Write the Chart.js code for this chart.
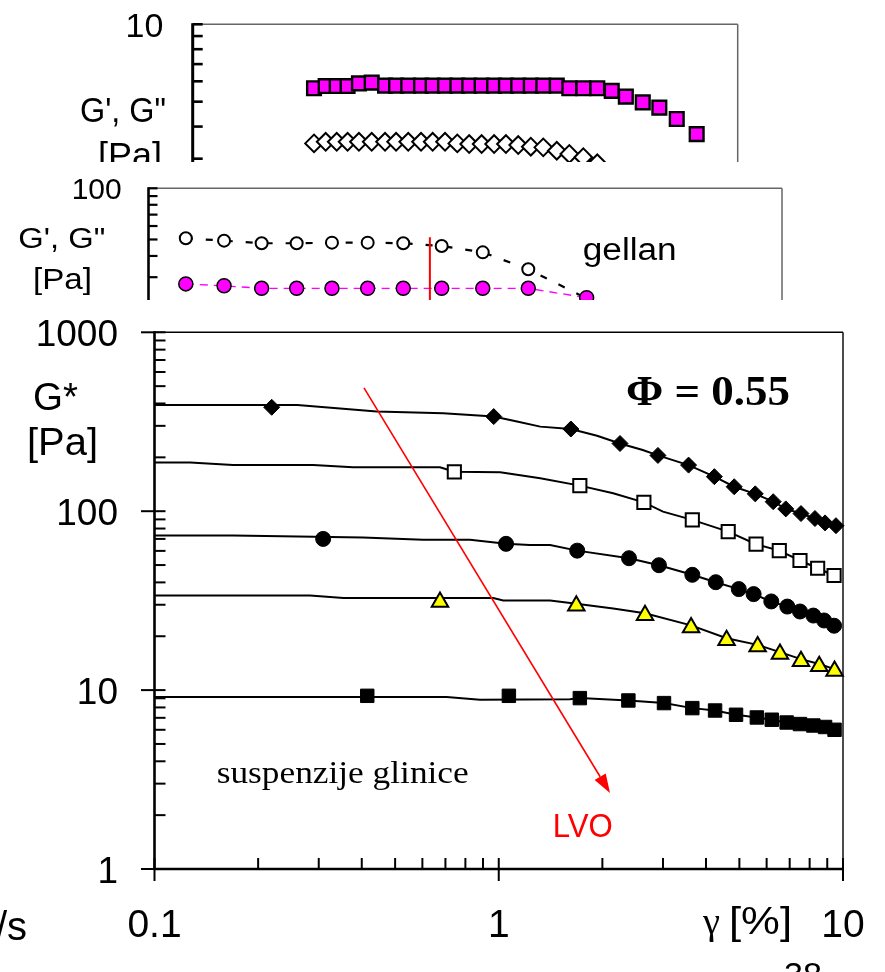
<!DOCTYPE html>
<html>
<head>
<meta charset="utf-8">
<script src="https://cdn.jsdelivr.net/npm/chart.js@4/dist/chart.umd.min.js"></script>
<style>
  html, body { margin: 0; padding: 0; background: #fff; }
  body { width: 885px; height: 972px; position: relative; overflow: hidden; }
  .panel { position: absolute; left: 0; width: 885px; overflow: hidden; background: #fff; }
  .panel canvas { position: absolute; left: 0; top: 0; }
</style>
</head>
<body>
<div class="panel" style="top:0;height:162px"><canvas id="storagePanel" width="885" height="560"></canvas></div>
<div class="panel" style="top:162px;height:138px"><canvas id="gellanPanel" width="885" height="400"></canvas></div>
<div class="panel" style="top:300px;height:672px"><canvas id="aluminaPanel" width="885" height="672"></canvas></div>
<script>
// ---------- Upper panel: G' (squares) and G'' (diamonds) ----------
const upperModulusTicks = ['0.1', '1', '10'];
const upperStrain = [0.0777, 0.0946, 0.114, 0.137, 0.166, 0.206, 0.258, 0.311, 0.382, 0.474,
                     0.577, 0.711, 0.875, 1.07, 1.32, 1.63, 1.99, 2.45, 3.03, 3.74,
                     4.70, 5.81, 7.36, 9.32, 11.9, 15.1, 20.1, 26.6, 35.7, 50.0];
const upperStorage = [5.64, 5.75, 5.75, 5.75, 5.89, 5.93, 5.77, 5.77, 5.77, 5.77,
                      5.77, 5.77, 5.77, 5.77, 5.77, 5.77, 5.77, 5.77, 5.77, 5.77,
                      5.77, 5.64, 5.64, 5.64, 5.51, 5.23, 4.97, 4.74, 4.28, 3.74];
const upperLoss = [3.44, 3.49, 3.49, 3.49, 3.49, 3.49, 3.49, 3.49, 3.49, 3.49,
                   3.49, 3.49, 3.44, 3.42, 3.42, 3.42, 3.42, 3.39, 3.34, 3.32,
                   3.22, 3.13, 3.04, 2.88];

// ---------- Middle panel: gellan ----------
const gellanModulusTicks = ['1', '10', '100'];
const gellanStrain = [0.0172, 0.030, 0.0518, 0.0862, 0.144, 0.242, 0.406, 0.710, 1.29, 2.50, 5.84];
const gellanOpen   = [50.8, 49.2, 47.5, 47.5, 47.9, 47.9, 47.5, 45.8, 42.0, 33.4, 22.5];
const gellanFilled = [27.4, 26.7, 25.8, 25.8, 25.8, 25.8, 25.8, 25.8, 25.8, 25.8, 22.7];
const gellanLimitStrain = 0.598;
const gellanLimitTop = 51.5;

// ---------- Main panel: G* of alumina suspensions vs strain ----------
const strainTicks = ['0.1', '1', '10'];
const modulusTicks = ['1', '10', '100', '1000'];

const diamondStrain = [0.219, 0.967, 1.62, 2.25, 2.90, 3.56, 4.23, 4.83, 5.56, 6.27, 6.82, 7.55, 8.29, 8.87, 9.54];
const diamondG      = [381, 338, 288, 239, 205, 181, 156, 137, 125, 113, 103, 97, 91, 86, 83];
const diamondFitStrain = [0.1, 0.26, 0.442, 0.69, 0.967, 1.13, 1.32, 1.62, 1.93, 2.25, 2.62, 2.90, 3.56, 4.23, 4.83, 5.56, 6.27, 6.82, 7.55, 8.29, 8.87, 9.54];
const diamondFitG      = [392, 392, 361, 353, 338, 317, 297, 288, 264, 239, 220, 205, 181, 156, 137, 125, 113, 103, 97, 91, 86, 83];

const openSqStrain = [0.743, 1.72, 2.64, 3.65, 4.64, 5.59, 6.53, 7.50, 8.44, 9.42];
const openSqG      = [166, 139, 112, 89.4, 76.9, 65.4, 60.2, 53.0, 48.0, 43.7];
const openSqFitStrain = [0.1, 0.127, 0.169, 0.289, 0.377, 0.675, 0.743, 1.01, 1.32, 1.72, 2.15, 2.64, 3.0, 3.65, 4.64, 5.59, 6.53, 7.50, 8.44, 9.42];
const openSqFitG      = [187, 187, 181, 181, 176, 176, 166, 165, 153, 139, 126, 112, 99.5, 89.4, 76.9, 65.4, 60.2, 53.0, 48.0, 43.7];

const circleStrain = [0.309, 1.05, 1.69, 2.39, 2.92, 3.65, 4.27, 4.98, 5.50, 6.19, 6.89, 7.50, 8.20, 8.81, 9.42];
const circleG      = [70.0, 65.7, 60.2, 54.6, 49.9, 44.1, 40.1, 36.7, 34.4, 31.3, 29.3, 27.5, 26.1, 24.5, 22.9];
const circleFitStrain = [0.1, 0.169, 0.403, 0.603, 0.825, 1.05, 1.23, 1.41, 1.69, 2.39, 2.92, 3.65, 4.27, 4.98, 5.50, 6.19, 6.89, 7.50, 8.20, 8.81, 9.42];
const circleFitG      = [73.1, 73.1, 71.2, 69.2, 69.2, 65.7, 64.8, 64.8, 60.2, 54.6, 49.9, 44.1, 40.1, 36.7, 34.4, 31.3, 29.3, 27.5, 26.1, 24.5, 22.9];

const triStrain = [0.675, 1.68, 2.66, 3.62, 4.59, 5.65, 6.56, 7.55, 8.53, 9.45];
const triG      = [31.1, 29.6, 26.2, 22.4, 19.0, 17.5, 15.9, 14.5, 13.6, 12.8];
const triFitStrain = [0.1, 0.283, 0.354, 0.964, 1.03, 1.41, 1.68, 2.15, 2.66, 3.62, 4.59, 5.65, 6.56, 7.55, 8.53, 9.45];
const triFitG      = [33.8, 33.8, 32.7, 32.7, 31.7, 31.7, 30.4, 28.6, 26.9, 23.0, 19.5, 17.9, 16.3, 14.9, 14.0, 13.1];

const squareStrain = [0.415, 1.07, 1.72, 2.38, 3.02, 3.65, 4.25, 4.89, 5.62, 6.21, 6.86, 7.50, 8.20, 8.87, 9.45];
const squareG      = [9.29, 9.29, 9.02, 8.75, 8.46, 7.93, 7.69, 7.28, 7.03, 6.83, 6.59, 6.46, 6.34, 6.22, 6.00];
const squareFitStrain = [0.1, 0.706, 0.882, 1.61, 1.72, 2.38, 3.02, 3.65, 4.25, 4.89, 5.62, 6.21, 6.86, 7.50, 8.20, 8.87, 9.45];
const squareFitG      = [9.14, 9.14, 8.83, 8.9, 9.02, 8.75, 8.46, 7.93, 7.69, 7.28, 7.03, 6.83, 6.59, 6.46, 6.34, 6.22, 6.00];

// Direction of decreasing linear viscoelastic limit
const lvoArrowFrom = { x: 0.406, y: 489 };
const lvoArrowTo   = { x: 2.105, y: 2.66 };

// ---------- helpers ----------
const W = 885;
const SANS = "'Liberation Sans', Arial, sans-serif";
const SERIF = "'Liberation Serif', 'Times New Roman', serif";

function pts(xs, ys) { return xs.map((x, i) => ({ x: x, y: ys[i] })); }

function seg(ctx, x1, y1, x2, y2) {
  ctx.beginPath(); ctx.moveTo(x1, y1); ctx.lineTo(x2, y2); ctx.stroke();
}

// Draws text at a baseline; optionally squeezes/stretches it to a given width.
function drawText(ctx, text, o) {
  ctx.save();
  ctx.font = o.font;
  ctx.fillStyle = o.color || '#000';
  ctx.textBaseline = 'alphabetic';
  const w = ctx.measureText(text).width;
  const sx = o.width ? o.width / w : 1;
  let x = o.x;
  if (o.align === 'right') x -= w * sx;
  else if (o.align === 'center') x -= w * sx / 2;
  ctx.translate(x, o.y);
  ctx.scale(sx, 1);
  ctx.fillText(text, 0, 0);
  ctx.restore();
}

function minorValues(min, max) {
  const out = [];
  for (let e = Math.round(Math.log10(min)); e < Math.round(Math.log10(max)); e++) {
    const base = Math.pow(10, e);
    for (let m = 2; m <= 9; m++) out.push(m * base);
  }
  return out;
}

function panelChart(id, cfg) {
  const canvas = document.getElementById(id);
  const H = canvas.height;
  const a = cfg.area;
  return new Chart(canvas, {
    type: 'scatter',
    data: { datasets: cfg.datasets },
    options: {
      responsive: false,
      animation: false,
      events: [],
      layout: { padding: { left: 0, top: a.top, right: W - a.right, bottom: 0 } },
      plugins: { legend: { display: false }, tooltip: { enabled: false } },
      scales: {
        x: {
          type: 'logarithmic', min: cfg.x.min, max: cfg.x.max,
          ticks: { display: false }, grid: { display: false, drawTicks: false }, border: { display: false },
          afterFit: s => { s.height = H - a.bottom; }
        },
        y: {
          type: 'logarithmic', min: cfg.y.min, max: cfg.y.max,
          ticks: { display: false }, grid: { display: false, drawTicks: false }, border: { display: false },
          afterFit: s => { s.width = a.left; }
        }
      }
    },
    plugins: [{ id: 'decor', afterDatasetsDraw: chart => cfg.decorate(chart) }]
  });
}

// ---------- upper panel ----------
panelChart('storagePanel', {
  area: { left: 192.7, right: 737.7, top: 24.3, bottom: 538.3 },
  x: { min: 0.01, max: 100 },
  y: { min: 0.1, max: 10 },
  datasets: [
    { data: pts(upperStrain, upperStorage), pointStyle: 'rect', pointRadius: 9.7,
      pointBackgroundColor: '#ff00ff', pointBorderColor: '#000', pointBorderWidth: 2.4 },
    { data: pts(upperStrain.slice(0, upperLoss.length), upperLoss), pointStyle: 'rectRot', pointRadius: 8.8,
      pointBackgroundColor: '#fff', pointBorderColor: '#000', pointBorderWidth: 2 }
  ],
  decorate(chart) {
    const { ctx, chartArea: a, scales: { y } } = chart;
    ctx.save();
    ctx.strokeStyle = '#666'; ctx.lineWidth = 1.5;
    seg(ctx, a.left, a.top, a.right, a.top);
    seg(ctx, a.right, a.top, a.right, a.bottom);
    ctx.strokeStyle = '#000'; ctx.lineWidth = 3;
    seg(ctx, a.left, a.top - 1, a.left, a.bottom);
    ctx.lineWidth = 2.6;
    upperModulusTicks.forEach(t => { const p = y.getPixelForValue(parseFloat(t)); seg(ctx, a.left, p, a.left + 10, p); });
    minorValues(0.1, 10).forEach(v => { const p = y.getPixelForValue(v); seg(ctx, a.left, p, a.left + 10, p); });
    upperModulusTicks.forEach(t => {
      drawText(ctx, t, { x: 163.3, y: y.getPixelForValue(parseFloat(t)) + 12.7, font: '34px ' + SANS, align: 'right' });
    });
    drawText(ctx, 'G\', G"', { x: 80, y: 122, font: '35px ' + SANS, width: 86 });
    drawText(ctx, '[Pa]', { x: 98, y: 166.5, font: '35px ' + SANS, width: 64 });
    ctx.restore();
  }
});

// ---------- middle panel ----------
panelChart('gellanPanel', {
  area: { left: 148.5, right: 782, top: 26.3, bottom: 366.3 },
  x: { min: 0.01, max: 100 },
  y: { min: 1, max: 100 },
  datasets: [
    { data: pts(gellanStrain, gellanFilled), showLine: true, borderColor: '#ff00ff', borderWidth: 1.3,
      borderDash: [8, 6], pointStyle: 'circle', pointRadius: 7,
      pointBackgroundColor: '#ff00ff', pointBorderColor: '#000', pointBorderWidth: 1.5 },
    { data: pts(gellanStrain, gellanOpen), showLine: true, borderColor: '#000', borderWidth: 2.2,
      borderDash: [7, 13], pointStyle: 'circle', pointRadius: 6,
      pointBackgroundColor: '#fff', pointBorderColor: '#000', pointBorderWidth: 2 }
  ],
  decorate(chart) {
    const { ctx, chartArea: a, scales: { x, y } } = chart;
    ctx.save();
    ctx.strokeStyle = '#666'; ctx.lineWidth = 1.5;
    seg(ctx, a.left, a.top, a.right, a.top);
    seg(ctx, a.right, a.top, a.right, a.bottom);
    ctx.strokeStyle = '#000'; ctx.lineWidth = 2.6;
    seg(ctx, a.left, a.top - 1, a.left, a.bottom);
    ctx.lineWidth = 2.2;
    gellanModulusTicks.forEach(t => { const p = y.getPixelForValue(parseFloat(t)); seg(ctx, a.left, p, a.left + 9, p); });
    minorValues(1, 100).forEach(v => { const p = y.getPixelForValue(v); seg(ctx, a.left, p, a.left + 9, p); });
    // limit of the linear region
    ctx.strokeStyle = '#ff0000'; ctx.lineWidth = 2;
    const lx = x.getPixelForValue(gellanLimitStrain);
    seg(ctx, lx, y.getPixelForValue(gellanLimitTop), lx, a.bottom);
    gellanModulusTicks.forEach(t => {
      drawText(ctx, t, { x: 121.7, y: y.getPixelForValue(parseFloat(t)) + 10.5, font: '30px ' + SANS, align: 'right' });
    });
    drawText(ctx, 'G\', G"', { x: 18.3, y: 86, font: '30px ' + SANS, width: 87 });
    drawText(ctx, '[Pa]', { x: 33, y: 126.7, font: '30px ' + SANS, width: 59 });
    drawText(ctx, 'gellan', { x: 582.7, y: 98, font: '31px ' + SANS, width: 94 });
    ctx.restore();
  }
});

// ---------- main panel ----------
const fit = { showLine: true, pointRadius: 0, borderColor: '#000', borderWidth: 2, order: 2 };
const mark = { showLine: false, order: 1, clip: false };

panelChart('aluminaPanel', {
  area: { left: 154.5, right: 843, top: 32.3, bottom: 569 },
  x: { min: 0.1, max: 10 },
  y: { min: 1, max: 1000 },
  datasets: [
    Object.assign({ data: pts(diamondFitStrain, diamondFitG) }, fit),
    Object.assign({ data: pts(openSqFitStrain, openSqFitG) }, fit),
    Object.assign({ data: pts(circleFitStrain, circleFitG) }, fit),
    Object.assign({ data: pts(triFitStrain, triFitG) }, fit),
    Object.assign({ data: pts(squareFitStrain, squareFitG) }, fit),
    Object.assign({ data: pts(diamondStrain, diamondG), pointStyle: 'rectRot', pointRadius: 8,
      pointBackgroundColor: '#000', pointBorderColor: '#000', pointBorderWidth: 1 }, mark),
    Object.assign({ data: pts(openSqStrain, openSqG), pointStyle: 'rect', pointRadius: 9.3,
      pointBackgroundColor: '#fff', pointBorderColor: '#000', pointBorderWidth: 2 }, mark),
    Object.assign({ data: pts(circleStrain, circleG), pointStyle: 'circle', pointRadius: 7.5,
      pointBackgroundColor: '#000', pointBorderColor: '#000', pointBorderWidth: 1 }, mark),
    Object.assign({ data: pts(triStrain, triG), pointStyle: 'triangle', pointRadius: 9.5,
      pointBackgroundColor: '#ffff00', pointBorderColor: '#000', pointBorderWidth: 2 }, mark),
    Object.assign({ data: pts(squareStrain, squareG), pointStyle: 'rect', pointRadius: 9.5,
      pointBackgroundColor: '#000', pointBorderColor: '#000', pointBorderWidth: 1 }, mark)
  ],
  decorate(chart) {
    const { ctx, chartArea: a, scales: { x, y } } = chart;
    ctx.save();
    // frame
    ctx.strokeStyle = '#000'; ctx.lineWidth = 1.4;
    seg(ctx, a.left, a.top, a.right, a.top);
    seg(ctx, a.right, a.top, a.right, a.bottom);
    ctx.lineWidth = 2.6;
    seg(ctx, a.left, a.top - 1, a.left, a.bottom + 1);
    seg(ctx, a.left - 1, a.bottom, a.right + 1, a.bottom);
    // ticks
    ctx.lineWidth = 2;
    modulusTicks.forEach(t => { const p = y.getPixelForValue(parseFloat(t)); seg(ctx, a.left - 13.5, p, a.left + 11, p); });
    minorValues(1, 1000).forEach(v => { const p = y.getPixelForValue(v); seg(ctx, a.left, p, a.left + 11, p); });
    strainTicks.forEach(t => { const p = x.getPixelForValue(parseFloat(t)); seg(ctx, p, a.bottom - 11, p, a.bottom + 12); });
    minorValues(0.1, 10).forEach(v => { const p = x.getPixelForValue(v); seg(ctx, p, a.bottom - 11, p, a.bottom); });
    // arrow
    const x1 = x.getPixelForValue(lvoArrowFrom.x), y1 = y.getPixelForValue(lvoArrowFrom.y);
    const x2 = x.getPixelForValue(lvoArrowTo.x), y2 = y.getPixelForValue(lvoArrowTo.y);
    const ang = Math.atan2(y2 - y1, x2 - x1);
    const headLen = 19, headHalf = 6.5;
    const bx = x2 - headLen * Math.cos(ang), by = y2 - headLen * Math.sin(ang);
    ctx.strokeStyle = '#ff0000'; ctx.fillStyle = '#ff0000'; ctx.lineWidth = 1.6;
    seg(ctx, x1, y1, bx, by);
    ctx.beginPath();
    ctx.moveTo(x2, y2);
    ctx.lineTo(bx + headHalf * Math.sin(ang), by - headHalf * Math.cos(ang));
    ctx.lineTo(bx - headHalf * Math.sin(ang), by + headHalf * Math.cos(ang));
    ctx.closePath(); ctx.fill();
    // tick labels
    modulusTicks.forEach(t => {
      drawText(ctx, t, { x: 118, y: y.getPixelForValue(parseFloat(t)) + 14, font: '37px ' + SANS, align: 'right' });
    });
    strainTicks.forEach(t => {
      drawText(ctx, t, { x: x.getPixelForValue(parseFloat(t)), y: 636.5, font: '39px ' + SANS, align: 'center' });
    });
    // titles and annotations
    drawText(ctx, 'G*', { x: 33, y: 110, font: '39px ' + SANS, width: 45 });
    drawText(ctx, '[Pa]', { x: 27, y: 155, font: '38px ' + SANS, width: 71 });
    drawText(ctx, 'γ', { x: 703, y: 634, font: '38px ' + SERIF, width: 17 });
    drawText(ctx, '[%]', { x: 729, y: 634, font: '38px ' + SANS, width: 63 });
    drawText(ctx, 'Φ = 0.55', { x: 626, y: 105, font: 'bold 42px ' + SERIF, width: 164 });
    drawText(ctx, 'suspenzije glinice', { x: 216.7, y: 483.3, font: '32px ' + SERIF, width: 252 });
    drawText(ctx, 'LVO', { x: 552.7, y: 536.7, font: '34px ' + SANS, color: '#ff0000', width: 60 });
    drawText(ctx, '/s', { x: -4, y: 640, font: '40px ' + SANS });
    drawText(ctx, '38', { x: 784, y: 686, font: '34px ' + SANS, width: 38 });
    ctx.restore();
  }
});
</script>
</body>
</html>
